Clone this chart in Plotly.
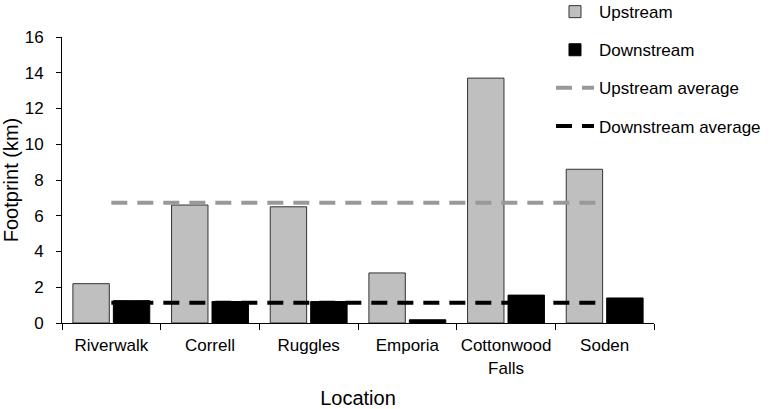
import plotly.graph_objects as go

locations = ["Riverwalk", "Correll", "Ruggles", "Emporia", "Cottonwood<br>Falls", "Soden"]
upstream = [2.2, 6.6, 6.5, 2.8, 13.7, 8.6]
downstream = [1.25, 1.2, 1.2, 0.18, 1.56, 1.4]
upstream_avg = [6.73] * 6
downstream_avg = [1.13] * 6
y_ticks = [0, 2, 4, 6, 8, 10, 12, 14, 16]

FONT = "Liberation Sans, Arial, sans-serif"
FS = 17

fig = go.Figure()
fig.add_trace(go.Bar(x=locations, y=upstream, name="Upstream",
                     marker=dict(color="#bfbfbf", line=dict(color="#333333", width=1)),
                     legendgroup="a"))
fig.add_trace(go.Bar(x=locations, y=downstream, name="Downstream",
                     marker=dict(color="#000000", line=dict(color="#000000", width=1)),
                     legendgroup="b"))
fig.add_trace(go.Scatter(x=locations, y=upstream_avg, name="Upstream average", mode="lines",
                         line=dict(color="#999999", width=4, dash="16px,10px"),
                         legendgroup="c"))
fig.add_trace(go.Scatter(x=locations, y=downstream_avg, name="Downstream average", mode="lines",
                         line=dict(color="#000000", width=4, dash="16px,10px"),
                         legendgroup="d"))

fig.update_layout(
    width=776, height=409,
    margin=dict(l=62, r=122, t=37, b=86, autoexpand=False),
    paper_bgcolor="white", plot_bgcolor="white",
    font=dict(family=FONT, size=FS, color="black"),
    barmode="group", bargap=0.18, bargroupgap=0.1,
    showlegend=True,
    legend=dict(x=0.826, y=1.15, xanchor="left", yanchor="top",
                tracegroupgap=13, font=dict(size=FS), bgcolor="rgba(0,0,0,0)",
                itemwidth=38),
)
fig.update_xaxes(showline=True, linecolor="black", linewidth=1, ticks="outside",
                 tickson="boundaries", ticklen=6, tickcolor="black", showgrid=False,
                 automargin=False, tickangle=0, ticklabelstandoff=7,
                 title=dict(text="Location", standoff=16), tickfont=dict(size=FS))
fig.update_yaxes(range=[0, 16], tickvals=y_ticks, showline=True, linecolor="black", linewidth=1,
                 ticks="outside", ticklen=5, tickcolor="black", showgrid=False, zeroline=False,
                 automargin=False, ticklabelstandoff=9,
                 title=dict(text="Footprint (km)", standoff=4), tickfont=dict(size=FS))

fig.write_html("out.html", config={"displayModeBar": False},
               post_script="document.body.style.margin='0';document.body.style.overflow='hidden';")
